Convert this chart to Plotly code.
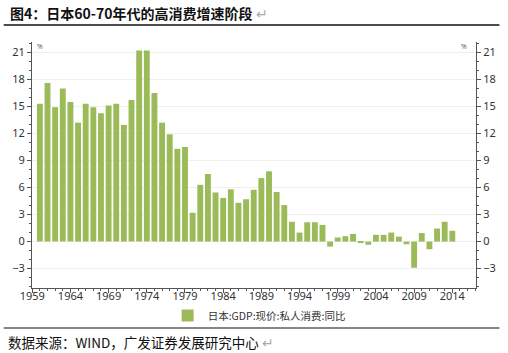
import plotly.graph_objects as go

years = list(range(1960, 2015))
growth = [15.3, 17.6, 14.9, 17.0, 15.5, 13.2, 15.3, 14.9, 14.25, 15.1,
          15.3, 12.95, 15.7, 21.2, 21.2, 16.5, 13.2, 11.9, 10.3, 10.5,
          3.2, 6.3, 7.5, 5.45, 4.85, 5.8, 4.3, 4.7, 5.75, 7.05,
          7.8, 5.5, 4.05, 2.2, 1.0, 2.15, 2.15, 1.85, -0.55, 0.45,
          0.6, 0.85, -0.15, -0.35, 0.75, 0.75, 1.0, 0.55, -0.3, -2.9,
          0.95, -0.85, 1.45, 2.2, 1.2]
x_ticks = list(range(1959, 2015, 5))
y_ticks = list(range(-3, 22, 3))

title_text = "图4：日本60-70年代的高消费增速阶段"
source_text = "数据来源：WIND，广发证券发展研究中心"
series_name = "日本:GDP:现价:私人消费:同比"

W, H = 508, 353
L, R, T, B = 29, 24, 42, 65
pw, ph = W - L - R, H - T - B

def px_x(p):
    return (p - L) / pw

def px_y(p):
    return (H - B - p) / ph

fig = go.Figure()
fig.add_trace(go.Bar(x=years, y=growth, name=series_name,
                     marker=dict(color="#9bbb59", line=dict(width=0))))
fig.add_trace(go.Scatter(x=years, y=growth, yaxis="y2", mode="none",
                         showlegend=False, hoverinfo="skip"))

axis_col = "#555555"
tick_font = dict(family="Noto Sans", size=11, color="#333333")
yrange = [-5.15, 22.15]

fig.update_layout(
    width=W, height=H,
    margin=dict(l=L, r=R, t=T, b=B),
    paper_bgcolor="white", plot_bgcolor="white",
    bargap=0.23,
    showlegend=True,
    legend=dict(orientation="h", x=px_x(168), xanchor="left",
                y=px_y(301), yanchor="top",
                font=dict(family="Noto Sans CJK SC", size=10.5, color="#333333"),
                bgcolor="rgba(0,0,0,0)"),
    xaxis=dict(range=[1958.97, 2017.1], tickvals=x_ticks,
               ticktext=[str(v) for v in x_ticks],
               showgrid=False, zeroline=False,
               showline=True, linecolor=axis_col, linewidth=1,
               ticks="outside", ticklen=4, tickcolor=axis_col,
               ticklabelstandoff=-6,
               minor=dict(dtick=1, tick0=1959, ticks="outside", ticklen=2,
                          tickcolor=axis_col, showgrid=False),
               tickfont=tick_font),
    yaxis=dict(range=yrange, tickvals=y_ticks,
               showgrid=True, gridcolor="#efefef", zeroline=False,
               showline=True, linecolor=axis_col, linewidth=1,
               ticks="outside", ticklen=4, tickcolor=axis_col,
               minor=dict(dtick=1, tick0=0, ticks="outside", ticklen=2,
                          tickcolor=axis_col, showgrid=False),
               tickfont=tick_font),
    yaxis2=dict(range=yrange, tickvals=y_ticks, overlaying="y", side="right",
                showgrid=False, zeroline=False,
                showline=True, linecolor=axis_col, linewidth=1,
                ticks="outside", ticklen=4, tickcolor=axis_col,
                minor=dict(dtick=1, tick0=0, ticks="outside", ticklen=2,
                           tickcolor=axis_col, showgrid=False),
                tickfont=tick_font),
)

# Title and footer with separator lines
fig.add_annotation(xref="paper", yref="paper", x=px_x(4), y=px_y(13),
                   xanchor="left", yanchor="middle", showarrow=False,
                   text="<b>" + title_text + "</b><span style='color:#aaaaaa'> ↵</span>",
                   font=dict(family="Noto Sans CJK SC", size=14, color="#111111"))
fig.add_annotation(xref="paper", yref="paper", x=px_x(2), y=px_y(342),
                   xanchor="left", yanchor="middle", showarrow=False,
                   text=source_text + "<span style='color:#aaaaaa'> ↵</span>",
                   font=dict(family="Noto Sans CJK SC", size=13.5, color="#111111"))
fig.add_shape(type="line", xref="paper", yref="paper",
              x0=px_x(0), x1=px_x(W), y0=px_y(25), y1=px_y(25),
              line=dict(color="#111111", width=1.5))
fig.add_shape(type="line", xref="paper", yref="paper",
              x0=px_x(0), x1=px_x(W), y0=px_y(328), y1=px_y(328),
              line=dict(color="#111111", width=1.2))
# percent unit marks
fig.add_annotation(xref="paper", yref="paper", x=px_x(32), y=px_y(40),
                   showarrow=False, text="%", font=dict(size=7, color="#555555"))
fig.add_annotation(xref="paper", yref="paper", x=px_x(477), y=px_y(40),
                   showarrow=False, text="%", font=dict(size=7, color="#555555"))

fig.write_html("out.html")
